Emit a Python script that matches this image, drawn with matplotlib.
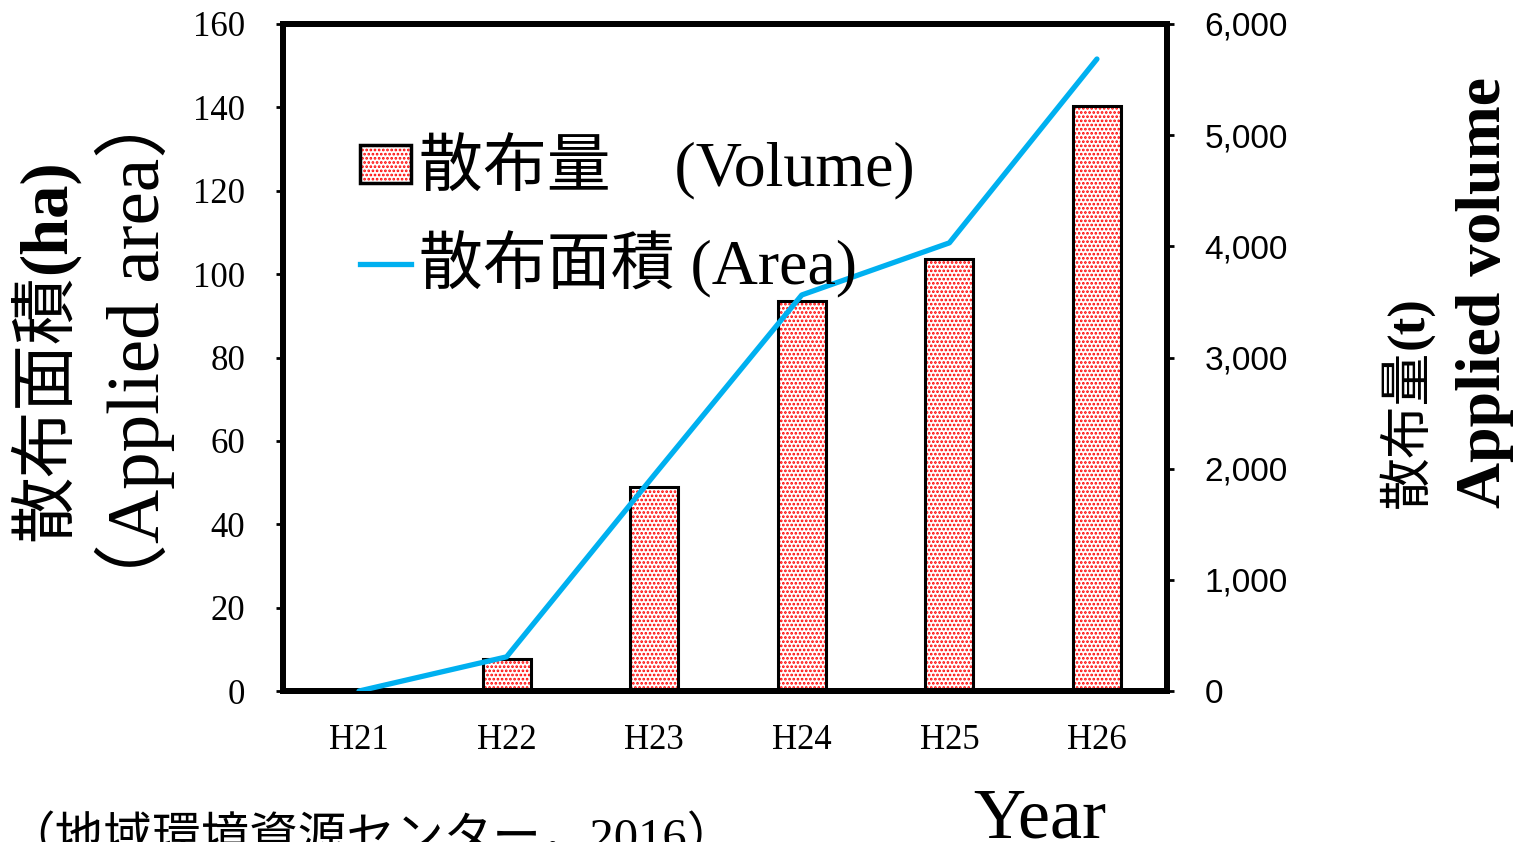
import matplotlib
matplotlib.use("Agg")
import matplotlib.pyplot as plt
from matplotlib.patches import Patch
from matplotlib.lines import Line2D
from matplotlib.ticker import FuncFormatter
from matplotlib.legend_handler import HandlerTuple

years = ["H21", "H22", "H23", "H24", "H25", "H26"]
area_ha = [0, 8.2, 51.8, 95, 107.5, 151.6]
volume_t = [0, 288, 1835, 3508, 3886, 5262]

SERIF = ["Liberation Serif", "Noto Sans CJK JP"]
SANS = ["Liberation Sans", "DejaVu Sans"]
LINE_C = "#00B0F0"
W, H = 1519, 842

plt.rcParams["font.family"] = SERIF
plt.rcParams["hatch.linewidth"] = 1.3

fig = plt.figure(figsize=(W / 100, H / 100), dpi=100)
ax = fig.add_axes([0.1863, 0.1793, 0.582, 0.7922])
ax2 = ax.twinx()

x = list(range(len(years)))
ax2.bar(x, volume_t, width=0.325, facecolor="white", edgecolor="red",
        hatch="....", linewidth=0, zorder=2)
ax2.bar(x, volume_t, width=0.325, facecolor="none", edgecolor="black",
        linewidth=2.2, zorder=3)
ax.plot(x, area_ha, color=LINE_C, lw=3.8, solid_capstyle="round", zorder=5)

ax.set_zorder(ax2.get_zorder() + 1)
ax.patch.set_visible(False)

ax.set_xlim(-0.515, 5.475)
ax.set_ylim(0, 160)
ax2.set_ylim(0, 6000)
ax.set_yticks(range(0, 161, 20))
ax2.set_yticks(range(0, 6001, 1000))
ax2.yaxis.set_major_formatter(FuncFormatter(lambda v, p: f"{int(v):,}"))
ax.set_xticks(x)
ax.set_xticklabels(years)

for a in (ax, ax2):
    for s in a.spines.values():
        s.set_linewidth(4.3)
        s.set_color("black")

ax.tick_params(axis="y", direction="out", length=5, width=2, pad=22, labelsize=25)
ax.tick_params(axis="x", length=0, pad=24, labelsize=25)
ax2.tick_params(axis="y", direction="out", length=5, width=2, pad=22, labelsize=24)
for t in ax2.get_yticklabels():
    t.set_fontfamily(SANS)

# legend
bar_handle = (Patch(facecolor="white", edgecolor="red", hatch="....", linewidth=0),
              Patch(facecolor="none", edgecolor="black", linewidth=2.5))
line_handle = Line2D([0], [0], color=LINE_C, lw=3.8)
labels = ["散布量　(Volume)", "散布面積 (Area)"]
leg = fig.legend([bar_handle, line_handle], labels, loc="upper left",
                 bbox_to_anchor=(0.237, 0.842), frameon=False,
                 prop={"family": SERIF, "size": 46},
                 handlelength=0.8, handleheight=0.55, handletextpad=0.12,
                 labelspacing=0.48, borderaxespad=0, borderpad=0,
                 handler_map={tuple: HandlerTuple(ndivide=1)})
leg.set_zorder(10)

# rotated multi-style labels
renderer = fig.canvas.get_renderer()


def rot_label(pieces, xc_px, yc_px):
    """pieces: list of (text, size, weight); place rotated 90deg, centred."""
    texts = []
    y = 0.0
    for s, size, weight in pieces:
        t = fig.text(0, 0, s, rotation=90, rotation_mode="anchor",
                     ha="left", va="baseline", fontsize=size,
                     fontweight=weight, family=SERIF)
        texts.append((t, y))
        bb = t.get_window_extent(renderer)
        y += bb.height
    total = y
    for t, off in texts:
        t.set_position((0.5, 0.5))
    x0 = min(t.get_window_extent(renderer).x0 for t, _ in texts)
    x1 = max(t.get_window_extent(renderer).x1 for t, _ in texts)
    cx = (x0 + x1) / 2 - 0.5 * W
    base_x = xc_px - cx
    y_start = (H - yc_px) - total / 2
    for t, off in texts:
        t.set_position((base_x / W, (y_start + off) / H))


rot_label([("散布面積", 48, "normal"), ("(ha)", 48, "bold")], 48, 350)
rot_label([("（Applied area）", 54, "normal")], 135, 350)
rot_label([("散布量", 38, "normal"), ("(t)", 38, "bold")], 1410, 402)
rot_label([("Applied volume", 46, "bold")], 1485, 292)

fig.text(1040 / W, 0.005, "Year", ha="center", va="baseline", fontsize=52, family=SERIF)
fig.text(0.004, -0.012, "（地域環境資源センター，2016）", ha="left", va="baseline",
         fontsize=35, family=SERIF)

fig.savefig("out.png", dpi=100)
